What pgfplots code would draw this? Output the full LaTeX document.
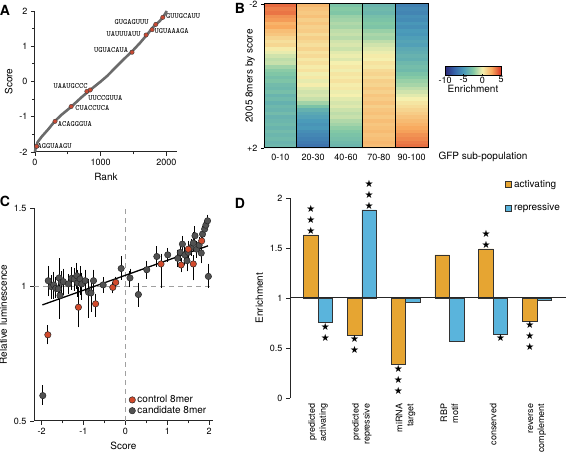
\documentclass[border=0pt]{standalone}
\usepackage{fontspec}
\setmainfont{TeX Gyre Heros}
\newfontfamily\dejavu{DejaVu Sans}
\usepackage{pgfplots}
\pgfplotsset{compat=1.18}
\usetikzlibrary{calc}
\newcommand\tk{\fontsize{9}{10}\selectfont}
\newcommand\lb{\fontsize{10}{12}\selectfont}
\newcommand\seq{\ttfamily\fontsize{8}{9}\selectfont}
\definecolor{curveA}{HTML}{6B6B6B}
\definecolor{redA}{HTML}{C84A34}
\definecolor{greyP}{HTML}{525252}
\definecolor{redP}{HTML}{D24A2C}
\definecolor{orangeD}{HTML}{E6A532}
\definecolor{blueD}{HTML}{5AB4DC}
\definecolor{dashC}{HTML}{A0A0A0}
\pgfplotsset{
  myax/.style={scale only axis, axis lines*=left,
    axis line style={line width=1pt, black!85, -},
    tick style={line width=0.8pt, black!85}, tick align=outside,
    major tick length=4pt, minor tick length=2.5pt,
    tick label style={font=\tk}, label style={font=\lb},
    /pgf/number format/assume math mode=true,
    /pgf/number format/1000 sep={},
    clip=false},
  colormap={enrich}{rgb255(0)=(45,40,120) rgb255(2.5)=(55,100,170) rgb255(5)=(75,155,185) rgb255(7.5)=(130,200,165) rgb255(10)=(245,240,175) rgb255(12.5)=(248,170,95) rgb255(15)=(215,48,35)}
}
\begin{document}
\begin{tikzpicture}
\useasboundingbox (0pt,0pt) rectangle (567pt,457pt);
% ---------------- Panel A
\begin{axis}[myax, at={(35pt,305pt)}, anchor=south west, width=142pt, height=141pt,
  xmin=0, xmax=2160, ymin=-2, ymax=2,
  xtick={0,1000,2000}, minor xtick={500,1500},
  ytick={-2,-1,0,1,2}, minor ytick={-1.5,-0.5,0.5,1.5},
  xlabel={Rank}, ylabel={Score}]
\addplot[color=curveA, line width=2.6pt] coordinates {
 (0,-2) (10,-1.88) (40,-1.72) (100,-1.57) (200,-1.36) (300,-1.13) (400,-0.95) (550,-0.72)
 (700,-0.46) (800,-0.3) (900,-0.15) (1000,0) (1100,0.16) (1200,0.35) (1300,0.54)
 (1400,0.72) (1500,0.9) (1600,1.1) (1700,1.32) (1800,1.55) (1900,1.72) (1950,1.83) (2005,2.0)};
\addplot[only marks, mark=*, mark size=2.2pt, mark options={fill=redA, draw=black!75, line width=0.4pt}] coordinates {
 (26,-1.84) (305,-1.13) (550,-0.71) (789,-0.28) (840,-0.24) (1476,0.83) (1690,1.32) (1781,1.47) (1837,1.62) (1944,1.82)};
\node[font=\seq, anchor=west, inner sep=0pt] at (axis cs:1993,1.844) {GUUGCAUU};
\node[font=\seq, anchor=east, inner sep=0pt] at (axis cs:1733,1.674) {GUGAGUUU};
\node[font=\seq, anchor=east, inner sep=0pt] at (axis cs:1611,1.348) {UAUUUAUU};
\node[font=\seq, anchor=west, inner sep=0pt] at (axis cs:1817,1.418) {UGUAAAGA};
\node[font=\seq, anchor=east, inner sep=0pt] at (axis cs:1420,0.879) {UGUACAUA};
\node[font=\seq, anchor=east, inner sep=0pt] at (axis cs:802,-0.142) {UAAUGCCC};
\node[font=\seq, anchor=west, inner sep=0pt] at (axis cs:809,-0.468) {UUCCGUUA};
\node[font=\seq, anchor=west, inner sep=0pt] at (axis cs:611,-0.752) {CUACCUCA};
\node[font=\seq, anchor=west, inner sep=0pt] at (axis cs:344,-1.22) {ACAGGGUA};
\node[font=\seq, anchor=west, inner sep=0pt] at (axis cs:38,-1.844) {AGGUAAGU};
\end{axis}
% ---------------- Panel B
\begin{axis}[scale only axis, at={(264pt,309pt)}, anchor=south west, width=164pt, height=144pt,
  xmin=-0.5, xmax=4.5, ymin=0.5, ymax=40.5, y dir=reverse, enlargelimits=false, axis on top,
  axis line style={line width=1pt, black},
  xtick={0,1,2,3,4}, xticklabels={0-10,20-30,40-60,70-80,90-100}, xtick style={draw=none},
  ytick={0.5,40.5}, yticklabels={-2,+2}, ytick pos=left, xtick pos=bottom,
  tick align=outside, major tick length=3pt, ytick style={line width=0.8pt, black},
  tick label style={font=\tk}, label style={font=\lb},
  ylabel={2005 8mers by score}, ylabel style={at={(rel axis cs:-0.035,0.5)}, anchor=south},
  colormap name=enrich, point meta min=-10, point meta max=5,
  colorbar horizontal,
  colorbar style={at={($(parent axis.south west)+(181pt,81pt)$)}, anchor=south west,
    scale only axis, width=56pt, height=9pt, xtick={-10,-5,0,5},
    xticklabel style={font=\tk, inner sep=1pt}, xtick pos=bottom,
    major tick length=2pt, tick align=inside, tick style={line width=0.6pt, black},
    axis line style={line width=1pt, black},
    /pgf/number format/assume math mode=true,
    xlabel={Enrichment}, xlabel style={font=\lb, inner sep=0.5pt}},
  clip=false]
\addplot[matrix plot*, mesh/cols=5, point meta=explicit] table[row sep=\\, meta=c] {
x y c\\
0 1 3.8\\1 1 2.0\\2 1 -2.8\\3 1 -3.6\\4 1 -6.2\\
0 2 3.4\\1 2 1.6\\2 2 -2.4\\3 2 -3.3\\4 2 -5.8\\
0 3 3.6\\1 3 1.4\\2 3 -2.6\\3 3 -3.5\\4 3 -6.0\\
0 4 3.0\\1 4 1.7\\2 4 -2.0\\3 4 -3.0\\4 4 -5.5\\
0 5 2.8\\1 5 1.2\\2 5 -1.8\\3 5 -2.8\\4 5 -5.7\\
0 6 2.2\\1 6 1.5\\2 6 -1.5\\3 6 -2.5\\4 6 -5.2\\
0 7 2.5\\1 7 1.1\\2 7 -1.7\\3 7 -2.7\\4 7 -5.5\\
0 8 1.8\\1 8 1.3\\2 8 -1.2\\3 8 -2.0\\4 8 -5.0\\
0 9 1.5\\1 9 0.8\\2 9 -1.0\\3 9 -1.6\\4 9 -5.2\\
0 10 1.0\\1 10 1.2\\2 10 -1.3\\3 10 -1.8\\4 10 -4.8\\
0 11 0.6\\1 11 0.9\\2 11 -0.8\\3 11 -1.2\\4 11 -4.5\\
0 12 0.9\\1 12 0.6\\2 12 -0.6\\3 12 -0.8\\4 12 -4.7\\
0 13 0.2\\1 13 1.0\\2 13 -0.9\\3 13 -0.5\\4 13 -4.2\\
0 14 -0.3\\1 14 0.5\\2 14 -0.4\\3 14 -0.2\\4 14 -4.0\\
0 15 -0.8\\1 15 0.8\\2 15 -0.2\\3 15 0.2\\4 15 -3.7\\
0 16 -1.2\\1 16 0.3\\2 16 -0.5\\3 16 0.0\\4 16 -3.9\\
0 17 -1.0\\1 17 0.6\\2 17 0.0\\3 17 0.5\\4 17 -3.4\\
0 18 -1.8\\1 18 0.2\\2 18 0.3\\3 18 0.3\\4 18 -3.1\\
0 19 -2.3\\1 19 0.5\\2 19 -0.1\\3 19 0.8\\4 19 -3.3\\
0 20 -2.6\\1 20 -0.1\\2 20 0.4\\3 20 1.0\\4 20 -2.8\\
0 21 -3.0\\1 21 0.3\\2 21 0.2\\3 21 0.7\\4 21 -2.4\\
0 22 -2.7\\1 22 -0.3\\2 22 0.5\\3 22 1.2\\4 22 -2.0\\
0 23 -3.2\\1 23 0.1\\2 23 0.1\\3 23 1.0\\4 23 -1.7\\
0 24 -3.4\\1 24 -0.5\\2 24 0.3\\3 24 1.4\\4 24 -1.2\\
0 25 -3.0\\1 25 -0.8\\2 25 -0.2\\3 25 1.1\\4 25 -0.8\\
0 26 -3.6\\1 26 -0.6\\2 26 0.0\\3 26 1.5\\4 26 -0.4\\
0 27 -3.3\\1 27 -1.0\\2 27 -0.4\\3 27 1.3\\4 27 0.0\\
0 28 -3.8\\1 28 -1.8\\2 28 -0.7\\3 28 1.6\\4 28 0.4\\
0 29 -3.4\\1 29 -2.8\\2 29 -0.5\\3 29 1.2\\4 29 0.7\\
0 30 -3.6\\1 30 -3.8\\2 30 -0.9\\3 30 1.5\\4 30 1.0\\
0 31 -3.2\\1 31 -4.3\\2 31 -1.2\\3 31 1.7\\4 31 1.3\\
0 32 -3.7\\1 32 -4.6\\2 32 -1.0\\3 32 1.4\\4 32 1.6\\
0 33 -3.5\\1 33 -5.0\\2 33 -1.5\\3 33 1.8\\4 33 1.9\\
0 34 -3.3\\1 34 -5.3\\2 34 -1.8\\3 34 1.5\\4 34 2.2\\
0 35 -3.6\\1 35 -5.1\\2 35 -2.2\\3 35 1.7\\4 35 2.5\\
0 36 -3.2\\1 36 -5.6\\2 36 -2.5\\3 36 1.9\\4 36 2.7\\
0 37 -3.5\\1 37 -5.9\\2 37 -2.8\\3 37 1.6\\4 37 3.0\\
0 38 -3.3\\1 38 -6.2\\2 38 -3.0\\3 38 1.8\\4 38 3.2\\
0 39 -3.6\\1 39 -6.5\\2 39 -3.3\\3 39 2.0\\4 39 3.5\\
0 40 -3.4\\1 40 -6.8\\2 40 -3.5\\3 40 1.8\\4 40 3.7\\
};
\foreach \xx in {0.5,1.5,2.5,3.5} {
  \edef\tmp{\noexpand\draw[line width=1.1pt, black] (axis cs:\xx,0.5) -- (axis cs:\xx,40.5);}\tmp
}
\end{axis}
\node[font=\lb, anchor=west] at (435pt,300pt) {GFP sub-population};
% ---------------- Panel C
\begin{axis}[myax, ymode=log, at={(34pt,36pt)}, anchor=south west, width=179pt, height=213pt,
  xmin=-2.18, xmax=2.09, ymin=0.5, ymax=1.5,
  xtick={-2,-1,0,1,2}, minor xtick={-1.5,-0.5,0.5,1.5},
  ytick={0.5,1,1.5}, yticklabels={0.5,1,1.5}, yminorticks=false,
  xlabel={Score}, ylabel={Relative luminescence},
  legend style={at={(0.53,0.13)}, anchor=north west, draw=none, fill=none, font=\lb,
    inner sep=0pt, row sep=-2pt, /tikz/every even column/.append style={column sep=1pt}},
  legend cell align=left,
  legend image code/.code={\draw[#1] plot coordinates {(3pt,0pt)};}]
\addplot[dashC, dashed, line width=1.1pt, dash pattern=on 5pt off 4pt, forget plot] coordinates {(0,0.5) (0,1.5)};
\addplot[dashC, dashed, line width=1.1pt, dash pattern=on 5pt off 4pt, forget plot] coordinates {(-2.18,1) (2.09,1)};
\addplot[only marks, mark=*, mark size=3.2pt, mark options={fill=greyP, draw=black!85, line width=0.5pt}, forget plot,
  error bars/.cd, y dir=both, y explicit, error bar style={line width=1pt, black},
  error mark=-, error mark options={mark size=2pt, line width=1pt, black}]
  table[x=x, y=y, y error plus=ep, y error minus=em, row sep=\\] {
x y ep em\\
-1.97 0.57 0.025 0.02\\
-1.84 1.031 0.07 0.07\\
-1.77 1.00 0.05 0.05\\
-1.71 1.009 0.06 0.06\\
-1.66 0.991 0.05 0.04\\
-1.60 0.988 0.04 0.04\\
-1.58 1.046 0.10 0.08\\
-1.53 1.022 0.05 0.05\\
-1.56 0.955 0.05 0.10\\
-1.48 1.026 0.06 0.06\\
-1.36 1.014 0.04 0.04\\
-1.28 1.044 0.05 0.05\\
-1.22 1.040 0.05 0.05\\
-1.16 1.058 0.06 0.06\\
-1.14 1.019 0.06 0.06\\
-1.08 1.040 0.06 0.07\\
-1.04 1.014 0.05 0.07\\
-0.96 1.031 0.05 0.05\\
-0.88 0.971 0.06 0.11\\
-0.82 0.968 0.06 0.08\\
-0.76 1.031 0.05 0.05\\
-0.53 1.009 0.03 0.03\\
-0.10 1.098 0.06 0.05\\
0.11 1.046 0.04 0.04\\
0.31 0.960 0.05 0.05\\
0.51 1.091 0.04 0.04\\
0.75 1.168 0.05 0.05\\
1.01 1.178 0.03 0.03\\
1.25 1.157 0.04 0.04\\
1.31 1.193 0.04 0.04\\
1.36 1.245 0.04 0.04\\
1.42 1.177 0.04 0.05\\
1.47 1.143 0.05 0.05\\
1.50 1.193 0.03 0.03\\
1.57 1.224 0.04 0.04\\
1.62 1.252 0.06 0.04\\
1.66 1.300 0.05 0.05\\
1.70 1.213 0.04 0.04\\
1.76 1.239 0.04 0.05\\
1.81 1.189 0.04 0.05\\
1.84 1.311 0.04 0.04\\
1.89 1.345 0.04 0.04\\
1.92 1.373 0.03 0.03\\
1.96 1.404 0.03 0.03\\
1.98 1.054 0.06 0.05\\
};
\addplot[black, line width=1.3pt, forget plot] coordinates {(-1.98,0.91) (1.97,1.234)};
\addplot[only marks, mark=*, mark size=3.2pt, mark options={fill=redP, draw=black!85, line width=0.5pt}, forget plot,
  error bars/.cd, y dir=both, y explicit, error bar style={line width=1pt, black},
  error mark=-, error mark options={mark size=2pt, line width=1pt, black}]
  table[x=x, y=y, y error plus=ep, y error minus=em, row sep=\\] {
x y ep em\\
-1.85 0.78 0.03 0.03\\
-1.12 0.899 0.09 0.08\\
-0.71 0.915 0.04 0.05\\
-0.30 0.996 0.02 0.02\\
-0.23 1.022 0.02 0.02\\
0.85 1.124 0.05 0.12\\
1.33 1.118 0.03 0.03\\
1.50 1.213 0.04 0.04\\
1.62 1.124 0.04 0.08\\
1.82 1.266 0.04 0.04\\
};
\addlegendimage{only marks, mark=*, mark size=3.2pt, mark options={fill=redP, draw=black!85, line width=0.5pt}}
\addlegendentry{control 8mer}
\addlegendimage{only marks, mark=*, mark size=3.2pt, mark options={fill=greyP, draw=black!85, line width=0.5pt}}
\addlegendentry{candidate 8mer}
\end{axis}
% ---------------- Panel D
\begin{axis}[myax, at={(290pt,59pt)}, anchor=south west, width=276pt, height=200pt,
  xmin=-0.64, xmax=5.66, ymin=0, ymax=2,
  y coord trafo/.code={\pgfmathparse{#1-1}}, y coord inv trafo/.code={\pgfmathparse{#1+1}},
  ytick={0,0.5,1,1.5,2}, yticklabels={0,0.5,1,1.5,2},
  xtick={0,1,2,3,4,5},
  xticklabels={{predicted\\activating},{predicted\\repressive},{miRNA\\target},{RBP\\motif},{conserved},{reverse\\complement}},
  xticklabel style={rotate=90, anchor=east, align=right, font=\fontsize{9}{11}\selectfont, inner sep=1.5pt},
  x axis line style={draw=none}, xtick style={draw=none},
  ybar=0pt, bar width=14.5pt,
  ylabel={Enrichment},
  legend style={at={(0.78,1.10)}, anchor=north west, draw=none, fill=none, font=\lb,
    inner sep=0pt, row sep=11pt, /tikz/every even column/.append style={column sep=3pt}},
  legend cell align=left,
  legend image code/.code={\draw[#1, line width=0.6pt] (0pt,-3pt) rectangle (6pt,3pt);}]
\addplot[fill=orangeD, draw=black!80, line width=0.7pt] coordinates {(0,1.63) (1,0.63) (2,0.337) (3,1.43) (4,1.49) (5,0.77)};
\addplot[fill=blueD, draw=black!80, line width=0.7pt] coordinates {(0,0.757) (1,1.88) (2,0.957) (3,0.57) (4,0.64) (5,0.975)};
\legend{activating, repressive}
\draw[line width=1pt, black!85] (rel axis cs:0,0.5) -- (rel axis cs:1,0.5);
\tikzset{stars/.style={font=\dejavu\fontsize{10}{11}\selectfont, align=center, inner sep=0.5pt}}
\node[stars, anchor=south] at (axis cs:-0.166,1.63) {★\\★\\★};
\node[stars, anchor=north] at (axis cs:0.166,0.757) {★\\★};
\node[stars, anchor=north] at (axis cs:0.834,0.63) {★\\★};
\node[stars, anchor=south] at (axis cs:1.166,1.88) {★\\★\\★};
\node[stars, anchor=north] at (axis cs:1.834,0.337) {★\\★\\★};
\node[stars, anchor=south] at (axis cs:3.834,1.49) {★\\★};
\node[stars, anchor=north] at (axis cs:4.166,0.64) {★};
\node[stars, anchor=north] at (axis cs:4.834,0.77) {★\\★\\★};
\end{axis}
% panel letters
\node[font=\fontsize{14}{14}\selectfont\bfseries] at (5pt,447pt) {A};
\node[font=\fontsize{14}{14}\selectfont\bfseries] at (240pt,449pt) {B};
\node[font=\fontsize{14}{14}\selectfont\bfseries] at (5pt,256pt) {C};
\node[font=\fontsize{14}{14}\selectfont\bfseries] at (240pt,254pt) {D};
\end{tikzpicture}
\end{document}
